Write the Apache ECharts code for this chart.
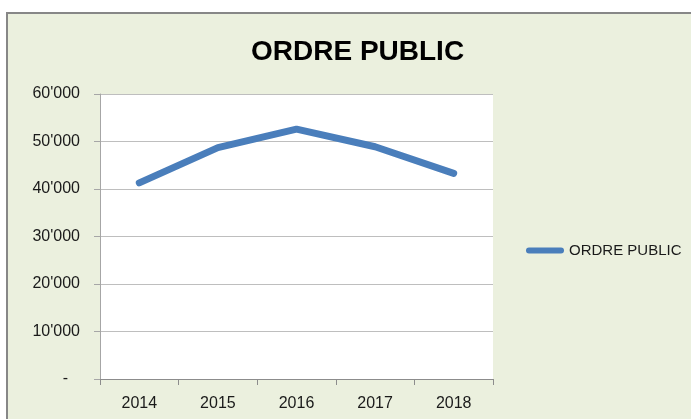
<!DOCTYPE html>
<html>
<head>
<meta charset="utf-8">
<script src="https://cdn.jsdelivr.net/npm/echarts@6/dist/echarts.min.js"></script>
<style>html,body{margin:0;padding:0;background:#fff}#c{width:691px;height:419px}</style>
</head>
<body>
<div id="c"></div>
<script>
var categories = ['2014', '2015', '2016', '2017', '2018'];
var seriesName = 'ORDRE PUBLIC';
var values = [41300, 48700, 52600, 48900, 43300];
var titleText = 'ORDRE PUBLIC';

var FONT = '"Liberation Sans", Arial, sans-serif';
function fmt(v) {
  if (v === 0) return '{d|-}';
  var s = String(Math.round(v));
  return s.replace(/\B(?=(\d{3})+(?!\d))/g, "'");
}
var chart = echarts.init(document.getElementById('c'), null, {renderer: 'canvas'});
chart.setOption({
  backgroundColor: '#ffffff',
  animation: false,
  graphic: [{
    type: 'rect', z: -10, silent: true,
    shape: {x: 7, y: 13, width: 720, height: 440},
    style: {fill: '#EBF0DE', stroke: '#878787', lineWidth: 2}
  }],
  title: {
    text: titleText, left: 246, top: 33,
    textStyle: {fontFamily: FONT, fontWeight: 'bold', fontSize: 28, color: '#000'}
  },
  legend: {
    left: 521, top: 238, orient: 'vertical',
    itemWidth: 38, itemHeight: 6,
    icon: 'path://M3,0 L35,0 A3,3 0 0 1 35,6 L3,6 A3,3 0 0 1 3,0 Z',
    textStyle: {fontFamily: FONT, fontSize: 15, color: '#1a1a1a'},
    data: [seriesName]
  },
  grid: {left: 100, right: 198, top: 94, bottom: 40, show: true, backgroundColor: '#ffffff', borderWidth: 0},
  xAxis: {
    type: 'category', data: categories, boundaryGap: true,
    axisLine: {lineStyle: {color: '#8C8C8C', width: 1}},
    axisTick: {show: true, length: 6, alignWithLabel: false, lineStyle: {color: '#8C8C8C'}},
    axisLabel: {fontFamily: FONT, fontSize: 16, color: '#1a1a1a', margin: 17}
  },
  yAxis: {
    type: 'value', min: 0, max: 60000, interval: 10000,
    axisLine: {show: true, lineStyle: {color: '#A6A6A6', width: 1}},
    axisTick: {show: true, length: 6, lineStyle: {color: '#A6A6A6'}},
    splitLine: {lineStyle: {color: '#BEBEBE', width: 1}},
    axisLabel: {
      fontFamily: FONT, fontSize: 16, color: '#1a1a1a', margin: 20,
      formatter: fmt,
      rich: {d: {fontFamily: FONT, fontSize: 16, color: '#1a1a1a', padding: [0, 12, 0, 0]}}
    }
  },
  series: [{
    name: seriesName, type: 'line', data: values,
    showSymbol: false, symbol: 'none',
    lineStyle: {color: '#4A7EBB', width: 7, cap: 'round', join: 'round'},
    itemStyle: {color: '#4A7EBB'}
  }]
});
</script>
</body>
</html>
